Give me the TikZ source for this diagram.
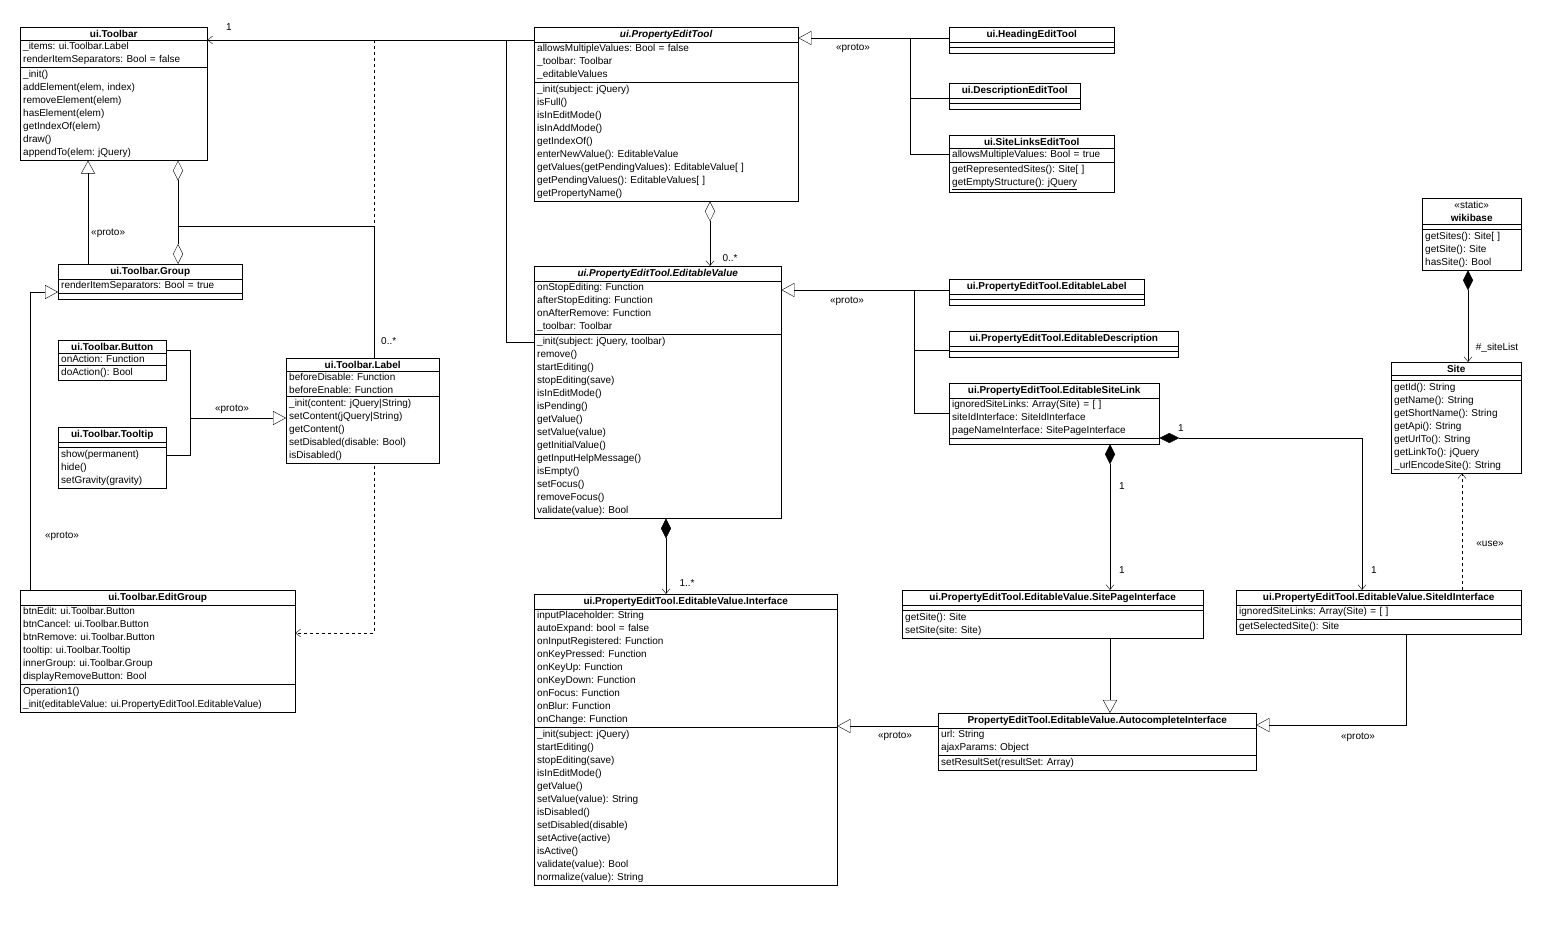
\documentclass[tikz,border=0pt]{standalone}
\usepackage{fontspec}
\setmainfont{Liberation Sans}
\usetikzlibrary{shapes.multipart}
\usetikzlibrary{arrows.meta}
\usetikzlibrary{backgrounds}
\newcommand{\ctitle}[1]{\makebox[\linewidth][c]{#1}}

\begin{document}
\frenchspacing
\begin{tikzpicture}[x=1pt, y=-1pt,
    font=\fontsize{10}{13}\selectfont,
    classbox/.style={rectangle split, rectangle split parts=3, draw=black, fill=white, anchor=north west,
        align=left, inner xsep=3pt, inner ysep=2.5pt},
    gen/.style={-{Triangle[open,length=13pt,width=14pt]}},
    assoc/.style={-{Straight Barb[length=5pt,width=8pt]}},
    dep/.style={dashed, -{Straight Barb[length=5pt,width=8pt]}},
    agg/.style={{Diamond[open,length=20pt,width=10pt]}-{Straight Barb[length=5pt,width=8pt]}},
    comp/.style={{Diamond[length=20pt,width=10pt]}-{Straight Barb[length=5pt,width=8pt]}},
    lbl/.style={inner sep=1pt}]
    \useasboundingbox (0,0) rectangle (1542,929);

    % toolbar classes
    \node[classbox, text width=181pt] (toolbar) at (20,27) {\ctitle{\textbf{ui.Toolbar}}
        \nodepart{second}\_items: ui.Toolbar.Label\\renderItemSeparators: Bool = false
        \nodepart{third}\_init()\\addElement(elem, index)\\removeElement(elem)\\hasElement(elem)\\getIndexOf(elem)\\draw()\\appendTo(elem: jQuery)};
    \node[classbox, text width=178pt] (group) at (58,264) {\ctitle{\textbf{ui.Toolbar.Group}}
        \nodepart{second}renderItemSeparators: Bool = true
        \nodepart{third}};
    \node[classbox, text width=102pt] (button) at (58,340) {\ctitle{\textbf{ui.Toolbar.Button}}
        \nodepart{second}onAction: Function
        \nodepart{third}doAction(): Bool};
    \node[classbox, text width=102pt] (tooltip) at (58,427) {\ctitle{\textbf{ui.Toolbar.Tooltip}}
        \nodepart{second}
        \nodepart{third}show(permanent)\\hide()\\setGravity(gravity)};
    \node[classbox, text width=147pt] (label) at (286,358) {\ctitle{\textbf{ui.Toolbar.Label}}
        \nodepart{second}beforeDisable: Function\\beforeEnable: Function
        \nodepart{third}\_init(content: jQuery|String)\\setContent(jQuery|String)\\getContent()\\setDisabled(disable: Bool)\\isDisabled()};
    \node[classbox, text width=269pt] (editgroup) at (20,590) {\ctitle{\textbf{ui.Toolbar.EditGroup}}
        \nodepart{second}btnEdit: ui.Toolbar.Button\\btnCancel: ui.Toolbar.Button\\btnRemove: ui.Toolbar.Button\\tooltip: ui.Toolbar.Tooltip\\innerGroup: ui.Toolbar.Group\\displayRemoveButton: Bool
        \nodepart{third}Operation1()\\\_init(editableValue: ui.PropertyEditTool.EditableValue)};

    % edit tools
    \node[classbox, text width=258pt] (pet) at (534,27) {\ctitle{\textbf{\textit{ui.PropertyEditTool}}}
        \nodepart{second}allowsMultipleValues: Bool = false\\\_toolbar: Toolbar\\\_editableValues
        \nodepart{third}\_init(subject: jQuery)\\isFull()\\isInEditMode()\\isInAddMode()\\getIndexOf()\\enterNewValue(): EditableValue\\getValues(getPendingValues): EditableValue[ ]\\getPendingValues(): EditableValues[ ]\\getPropertyName()};
    \node[classbox, text width=159pt] (heading) at (949,27) {\ctitle{\textbf{ui.HeadingEditTool}}
        \nodepart{second}\nodepart{third}};
    \node[classbox, text width=125pt] (desc) at (949,83) {\ctitle{\textbf{ui.DescriptionEditTool}}
        \nodepart{second}\nodepart{third}};
    \node[classbox, text width=159pt] (sitelinks) at (949,135) {\ctitle{\textbf{ui.SiteLinksEditTool}}
        \nodepart{second}allowsMultipleValues: Bool = true
        \nodepart{third}getRepresentedSites(): Site[ ]\\\underline{getEmptyStructure(): jQuery}};

    % editable values
    \node[classbox, text width=241pt] (ev) at (534,266) {\ctitle{\textbf{\textit{ui.PropertyEditTool.EditableValue}}}
        \nodepart{second}onStopEditing: Function\\afterStopEditing: Function\\onAfterRemove: Function\\\_toolbar: Toolbar
        \nodepart{third}\_init(subject: jQuery, toolbar)\\remove()\\startEditing()\\stopEditing(save)\\isInEditMode()\\isPending()\\getValue()\\setValue(value)\\getInitialValue()\\getInputHelpMessage()\\isEmpty()\\setFocus()\\removeFocus()\\validate(value): Bool};
    \node[classbox, text width=189pt] (elabel) at (949,279) {\ctitle{\textbf{ui.PropertyEditTool.EditableLabel}}
        \nodepart{second}\nodepart{third}};
    \node[classbox, text width=223pt] (edesc) at (949,331) {\ctitle{\textbf{ui.PropertyEditTool.EditableDescription}}
        \nodepart{second}\nodepart{third}};
    \node[classbox, text width=204pt] (esitelink) at (949,383) {\ctitle{\textbf{ui.PropertyEditTool.EditableSiteLink}}
        \nodepart{second}ignoredSiteLinks: Array(Site) = [ ]\\siteIdInterface: SiteIdInterface\\pageNameInterface: SitePageInterface
        \nodepart{third}};

    % wikibase
    \node[classbox, text width=93pt] (wikibase) at (1422,198) {\ctitle{<<static>>}\\\ctitle{\textbf{wikibase}}
        \nodepart{second}
        \nodepart{third}getSites(): Site[ ]\\getSite(): Site\\hasSite(): Bool};
    \node[classbox, text width=124pt] (site) at (1391,362) {\ctitle{\textbf{Site}}
        \nodepart{second}
        \nodepart{third}getId(): String\\getName(): String\\getShortName(): String\\getApi(): String\\getUrlTo(): String\\getLinkTo(): jQuery\\\_urlEncodeSite(): String};

    % interfaces
    \node[classbox, text width=297pt] (iface) at (534,594) {\ctitle{\textbf{ui.PropertyEditTool.EditableValue.Interface}}
        \nodepart{second}inputPlaceholder: String\\autoExpand: bool = false\\onInputRegistered: Function\\onKeyPressed: Function\\onKeyUp: Function\\onKeyDown: Function\\onFocus: Function\\onBlur: Function\\onChange: Function
        \nodepart{third}\_init(subject: jQuery)\\startEditing()\\stopEditing(save)\\isInEditMode()\\getValue()\\setValue(value): String\\isDisabled()\\setDisabled(disable)\\setActive(active)\\isActive()\\validate(value): Bool\\normalize(value): String};
    \node[classbox, text width=295pt] (spi) at (902,590) {\ctitle{\textbf{ui.PropertyEditTool.EditableValue.SitePageInterface}}
        \nodepart{second}
        \nodepart{third}getSite(): Site\\setSite(site: Site)};
    \node[classbox, text width=279pt] (sii) at (1236,590) {\ctitle{\textbf{ui.PropertyEditTool.EditableValue.SiteIdInterface}}
        \nodepart{second}ignoredSiteLinks: Array(Site) = [ ]
        \nodepart{third}getSelectedSite(): Site};
    \node[classbox, text width=312pt] (aci) at (938,713) {\ctitle{\textbf{PropertyEditTool.EditableValue.AutocompleteInterface}}
        \nodepart{second}url: String\\ajaxParams: Object
        \nodepart{third}setResultSet(resultSet: Array)};

    \coordinate (aggjoin) at (178,226);
    \coordinate (projoin) at (190,418);
    \coordinate (depjoin) at (374,40);
    \coordinate (tbjoin) at (506,40);

    % toolbar connectors
    \draw[gen] (group.north -| 88,0) -- (toolbar.south -| 88,0);
    \node[lbl, anchor=west] at (90,233) {<<proto>>};
    \draw[{Diamond[open,length=20pt,width=10pt]}-{Diamond[open,length=20pt,width=10pt]}] (toolbar.south -| 178,0) -- (group.north -| 178,0);
    \draw (aggjoin) -- (374,226) -- (label.north -| 374,0);
    \node[lbl, anchor=west] at (380,341) {0..*};
    \draw (button.east |- 0,350) -- (190,350) -- (190,455) -- (tooltip.east |- 0,455);
    \draw[gen] (projoin) -- (label.west |- projoin);
    \node[lbl] at (232,409) {<<proto>>};
    \draw[gen] (editgroup.north -| 30,0) -- (30,292) -- (group.west |- 0,292);
    \node[lbl] at (62,536) {<<proto>>};
    \begin{pgfonlayer}{background}
    \draw[dep] (depjoin) -- (374,633) -- (editgroup.east |- 0,633);
    \end{pgfonlayer}
    \draw[assoc] (pet.west |- 0,40) -- (toolbar.east |- 0,40);
    \node[lbl] at (229,27) {1};
    \draw (ev.west |- 0,342) -- (506,342) -- (tbjoin);

    % edit tool connectors
    \draw[gen] (heading.west |- 0,38) -- (pet.east |- 0,38);
    \draw (910,38) -- (910,154);
    \draw (desc.west |- 0,98) -- (910,98);
    \draw (sitelinks.west |- 0,154) -- (910,154);
    \node[lbl] at (853,48) {<<proto>>};
    \draw[agg] (pet.south -| 710,0) -- (ev.north -| 710,0);
    \node[lbl] at (730,258) {0..*};

    % editable value connectors
    \draw[gen] (elabel.west |- 0,290) -- (ev.east |- 0,290);
    \draw (914,290) -- (914,413);
    \draw (edesc.west |- 0,350) -- (914,350);
    \draw (esitelink.west |- 0,413) -- (914,413);
    \node[lbl] at (847,301) {<<proto>>};
    \draw[comp] (ev.south -| 666,0) -- (iface.north -| 666,0);
    \node[lbl] at (687,583) {1..*};

    % site link connectors
    \draw[comp] (esitelink.south -| 1110,0) -- (spi.north -| 1110,0);
    \node[lbl] at (1122,486) {1};
    \node[lbl] at (1122,570) {1};
    \draw[comp] (esitelink.east |- 0,438) -- (1362,438) -- (sii.north -| 1362,0);
    \node[lbl] at (1181,428) {1};
    \node[lbl] at (1374,570) {1};
    \draw[comp] (wikibase.south -| 1468,0) -- (site.north -| 1468,0);
    \node[lbl] at (1497,348) {\#\_siteList};
    \draw[dep] (sii.north -| 1462,0) -- (site.south -| 1462,0);
    \node[lbl] at (1490,544) {<<use>>};

    % autocomplete connectors
    \draw[gen] (spi.south -| 1110,0) -- (aci.north -| 1110,0);
    \draw[gen] (sii.south -| 1406,0) -- (1406,725) -- (aci.east |- 0,725);
    \node[lbl] at (1358,737) {<<proto>>};
    \draw[gen] (aci.west |- 0,726) -- (iface.east |- 0,726);
    \node[lbl] at (895,736) {<<proto>>};
\end{tikzpicture}
\end{document}
